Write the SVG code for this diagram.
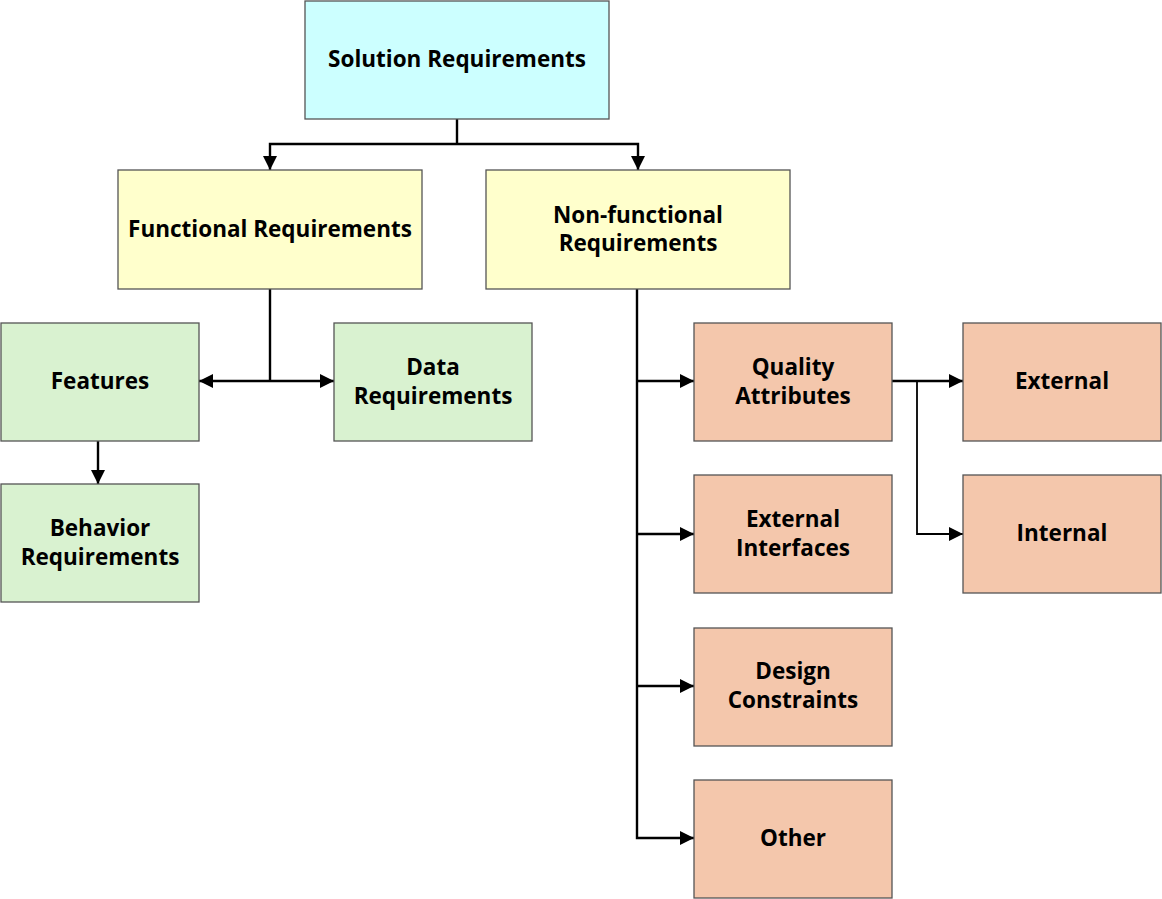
<svg xmlns="http://www.w3.org/2000/svg" width="1162" height="899" viewBox="0 0 1162 899">
<style>
.box{stroke:#555;stroke-width:1.3}
.blue{fill:#CCFFFF}
.yel{fill:#FFFFCC}
.grn{fill:#D9F2D0}
.sal{fill:#F4C7AC}
text{font-family:"Open Sans","Noto Sans",sans-serif;font-weight:bold;font-size:22.5px;fill:#000;text-anchor:middle}
.c{fill:none;stroke:#000;stroke-width:2.4}
</style>
<defs>
<marker id="ah" viewBox="0 0 10 10" refX="10" refY="5" markerWidth="14" markerHeight="14" orient="auto" markerUnits="userSpaceOnUse">
<path d="M0,0 L10,5 L0,10 z" fill="#000"/>
</marker>
</defs>
<rect width="1162" height="899" fill="#fff"/>
<g id="connectors">
<path class="c" d="M457,119 V144"/>
<path class="c" d="M457,144 H270 V170" marker-end="url(#ah)"/>
<path class="c" d="M457,144 H638 V170" marker-end="url(#ah)"/>
<path class="c" d="M270,289 V381"/>
<path class="c" d="M270,381 H199" marker-end="url(#ah)"/>
<path class="c" d="M270,381 H334" marker-end="url(#ah)"/>
<path class="c" d="M98,441 V484" marker-end="url(#ah)"/>
<path class="c" d="M637,289 V838 H694" marker-end="url(#ah)"/>
<path class="c" d="M637,381 H694" marker-end="url(#ah)"/>
<path class="c" d="M637,534 H694" marker-end="url(#ah)"/>
<path class="c" d="M637,686 H694" marker-end="url(#ah)"/>
<path class="c" d="M892,381 H963" marker-end="url(#ah)"/>
<path class="c" style="stroke-width:1.8" d="M917,381 V534 H963" marker-end="url(#ah)"/>
</g>
<g id="solution"><rect class="box blue" x="305" y="1" width="304" height="118"/><text x="457" y="67">Solution Requirements</text></g>
<g id="functional"><rect class="box yel" x="118" y="170" width="304" height="119"/><text x="270" y="237">Functional Requirements</text></g>
<g id="nonfunctional"><rect class="box yel" x="486" y="170" width="304" height="119"/><text x="638" y="223">Non-functional</text><text x="638" y="251">Requirements</text></g>
<g id="features"><rect class="box grn" x="1" y="323" width="198" height="118"/><text x="100" y="389">Features</text></g>
<g id="data"><rect class="box grn" x="334" y="323" width="198" height="118"/><text x="433" y="375">Data</text><text x="433" y="404">Requirements</text></g>
<g id="behavior"><rect class="box grn" x="1" y="484" width="198" height="118"/><text x="100" y="536">Behavior</text><text x="100" y="565">Requirements</text></g>
<g id="quality"><rect class="box sal" x="694" y="323" width="198" height="118"/><text x="793" y="375">Quality</text><text x="793" y="404">Attributes</text></g>
<g id="external"><rect class="box sal" x="963" y="323" width="198" height="118"/><text x="1062" y="389">External</text></g>
<g id="extinterfaces"><rect class="box sal" x="694" y="475" width="198" height="118"/><text x="793" y="527">External</text><text x="793" y="556">Interfaces</text></g>
<g id="internal"><rect class="box sal" x="963" y="475" width="198" height="118"/><text x="1062" y="541">Internal</text></g>
<g id="design"><rect class="box sal" x="694" y="628" width="198" height="118"/><text x="793" y="679">Design</text><text x="793" y="708">Constraints</text></g>
<g id="other"><rect class="box sal" x="694" y="780" width="198" height="118"/><text x="793" y="846">Other</text></g>
</svg>
